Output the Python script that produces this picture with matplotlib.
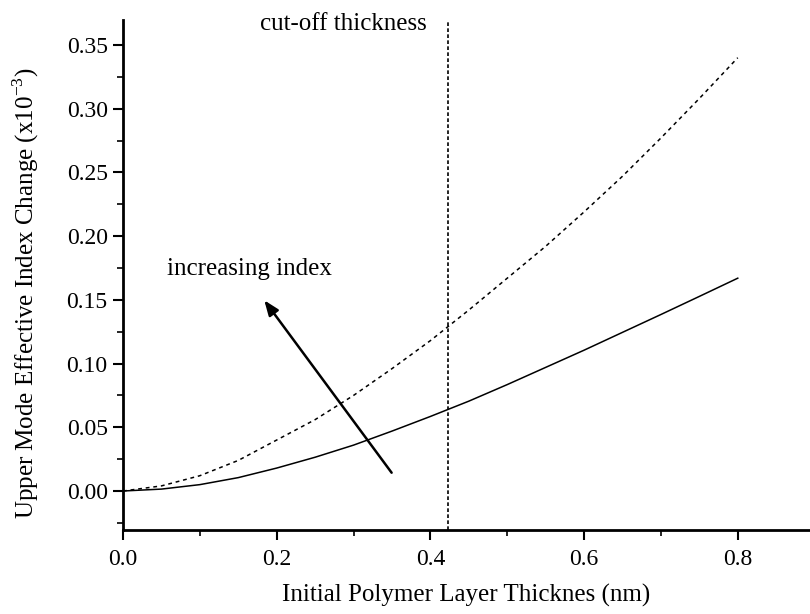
import matplotlib
matplotlib.use("Agg")
import matplotlib.pyplot as plt
from matplotlib.ticker import MultipleLocator, FormatStrFormatter

plt.rcParams['font.family'] = ['Liberation Serif', 'DejaVu Serif']
plt.rcParams['mathtext.fontset'] = 'custom'
plt.rcParams['mathtext.rm'] = 'Liberation Serif'

thickness = [0, 0.05, 0.1, 0.15, 0.2, 0.25, 0.3, 0.35, 0.4, 0.45, 0.5, 0.55, 0.6, 0.65, 0.7, 0.75, 0.8]
solid_series = [0, 0.0015, 0.005, 0.0105, 0.018, 0.0265, 0.036, 0.047, 0.0585, 0.0705,
                0.0835, 0.097, 0.1105, 0.1245, 0.1385, 0.1527, 0.167]
dashed_series = [0, 0.004, 0.012, 0.024, 0.040, 0.056, 0.075, 0.096, 0.118, 0.142,
                 0.167, 0.192, 0.219, 0.247, 0.277, 0.308, 0.340]
cutoff = 0.423
arrow_tail = (0.3517, 0.0126)
arrow_head = (0.1817, 0.1514)

fig = plt.figure(figsize=(8.1, 6.14), dpi=100)
ax = fig.add_axes([123/810, 84/614, 1 - 123/810, (530-20)/614])

ax.plot(thickness, solid_series, color='black', lw=1.1)
ax.plot(thickness, dashed_series, color='black', lw=1.1, dashes=(2.5, 2.5))
ax.axvline(cutoff, color='black', lw=1.2, dashes=(2.2, 1.4))

ax.annotate('', xy=arrow_head, xytext=arrow_tail,
            arrowprops=dict(arrowstyle='-|>,head_length=0.9,head_width=0.35',
                            color='black', lw=1.8))
ax.text(0.0572, 0.1695, 'increasing index', fontsize=18, ha='left', va='baseline')
ax.text(0.395, 0.3617, 'cut-off thickness', fontsize=18, ha='right', va='baseline',
        clip_on=False)

ax.set_xlim(0, 0.894)
ax.set_ylim(-0.0306, 0.3696)
ax.xaxis.set_major_locator(MultipleLocator(0.2))
ax.xaxis.set_minor_locator(MultipleLocator(0.1))
ax.yaxis.set_major_locator(MultipleLocator(0.05))
ax.yaxis.set_minor_locator(MultipleLocator(0.025))
ax.xaxis.set_major_formatter(FormatStrFormatter('%.1f'))
ax.yaxis.set_major_formatter(FormatStrFormatter('%.2f'))
for s in ['top', 'right']:
    ax.spines[s].set_visible(False)
for s in ['left', 'bottom']:
    ax.spines[s].set_linewidth(2)
ax.tick_params(which='major', direction='out', length=7, width=1.5, labelsize=17)
ax.tick_params(axis='x', which='major', pad=7)
ax.tick_params(axis='y', which='major', pad=4)
ax.tick_params(which='minor', direction='out', length=4, width=1.2)

ax.set_xlabel('Initial Polymer Layer Thicknes (nm)', fontsize=18)
ax.set_ylabel('Upper Mode Effective Index Change (x10$^{-3}$)', fontsize=18)
ax.xaxis.set_label_coords(0.5, -0.106)
ax.yaxis.set_label_coords(-0.12, 0.465)

fig.savefig('out.png', dpi=100)
